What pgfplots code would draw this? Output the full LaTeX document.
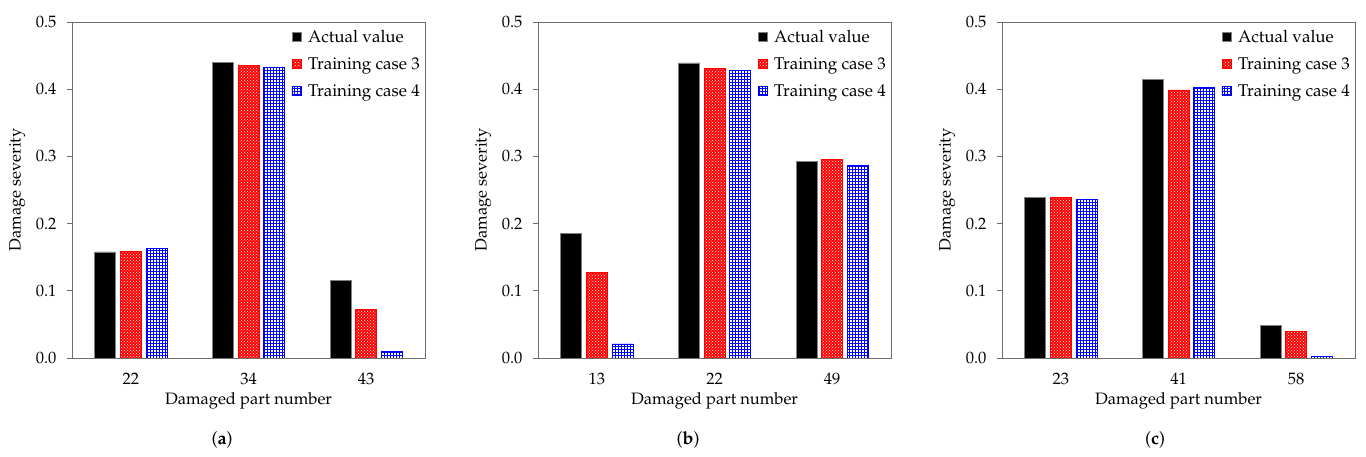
\documentclass[border=0pt]{standalone}
\usepackage[T1]{fontenc}
\usepackage{mathpazo}
\usepackage{pgfplots}
\pgfplotsset{compat=1.18}
\usetikzlibrary{patterns}

\definecolor{framegray}{RGB}{110,110,110}

\pgfplotsset{
  dmg/.style={
    scale only axis, width=353pt, height=336pt,
    xmin=-0.5, xmax=2.5, ymin=0, ymax=0.5,
    ytick={0,0.1,0.2,0.3,0.4,0.5},
    yticklabel style={/pgf/number format/fixed, /pgf/number format/fixed zerofill,
       /pgf/number format/precision=1, xshift=-7pt},
    xtick={0,1,2},
    x tick style={draw=none},
    ytick pos=left, tick align=outside, major tick length=5pt,
    axis line style={framegray, line width=0.9pt},
    y tick style={framegray, line width=0.9pt},
    ticklabel style={font=\fontsize{16.5}{19}\selectfont},
    xticklabel style={yshift=-7pt},
    label style={font=\fontsize{16.5}{19}\selectfont},
    xlabel={Damaged part number},
    ylabel={Damage severity},
    xlabel style={at={(axis description cs:0.5,0)}, anchor=center, yshift=-43pt},
    ylabel style={at={(axis description cs:-0.155,0.5)}, anchor=center},
    legend style={draw=none, fill=none, at={(1,1)}, anchor=north east, yshift=-3pt,
      font=\fontsize{17}{20}\selectfont, row sep=9.5pt, inner sep=3pt,
      /tikz/every odd column/.append style={column sep=5pt}},
    legend cell align=left,
  },
  sqleg/.style={legend image code/.code={\draw[##1] (0pt,-4.5pt) rectangle (9pt,4.5pt);}},
  actual/.style={ybar, bar width=21pt, bar shift=-25.6pt, fill=black, draw=gray, line width=0.6pt, sqleg},
  tcthree/.style={ybar, bar width=21pt, bar shift=0pt, fill=red, draw=red, line width=0.6pt,
     postaction={pattern=crosshatch dots, pattern color=white}, sqleg},
  tcfour/.style={ybar, bar width=21pt, bar shift=25.6pt, fill=white, draw=blue, line width=0.6pt,
     pattern=grid, pattern color=blue, sqleg},
}

\begin{document}
\begin{tikzpicture}
\useasboundingbox (0,0) rectangle (1366pt,457pt);

% (a)
\begin{axis}[dmg, at={(72pt,99pt)}, anchor=south west, xticklabels={22,34,43}]
\addplot[actual] coordinates {(0,0.158) (1,0.440) (2,0.115)};
\addplot[tcthree] coordinates {(0,0.159) (1,0.435) (2,0.072)};
\addplot[tcfour] coordinates {(0,0.163) (1,0.433) (2,0.010)};
\legend{Actual value, Training case 3, Training case 4}
\end{axis}

% (b)
\begin{axis}[dmg, at={(538pt,99pt)}, anchor=south west, xticklabels={13,22,49}]
\addplot[actual] coordinates {(0,0.186) (1,0.439) (2,0.292)};
\addplot[tcthree] coordinates {(0,0.127) (1,0.431) (2,0.296)};
\addplot[tcfour] coordinates {(0,0.021) (1,0.428) (2,0.287)};
\legend{Actual value, Training case 3, Training case 4}
\end{axis}

% (c)
\begin{axis}[dmg, at={(1002pt,99pt)}, anchor=south west, xticklabels={23,41,58}]
\addplot[actual] coordinates {(0,0.239) (1,0.415) (2,0.048)};
\addplot[tcthree] coordinates {(0,0.239) (1,0.399) (2,0.040)};
\addplot[tcfour] coordinates {(0,0.236) (1,0.403) (2,0.002)};
\legend{Actual value, Training case 3, Training case 4}
\end{axis}

\node[font=\fontsize{18}{21}\selectfont] at (222pt,17pt) {(\textbf{a})};
\node[font=\fontsize{18}{21}\selectfont] at (688pt,17pt) {(\textbf{b})};
\node[font=\fontsize{18}{21}\selectfont] at (1155pt,17pt) {(\textbf{c})};
\end{tikzpicture}
\end{document}
